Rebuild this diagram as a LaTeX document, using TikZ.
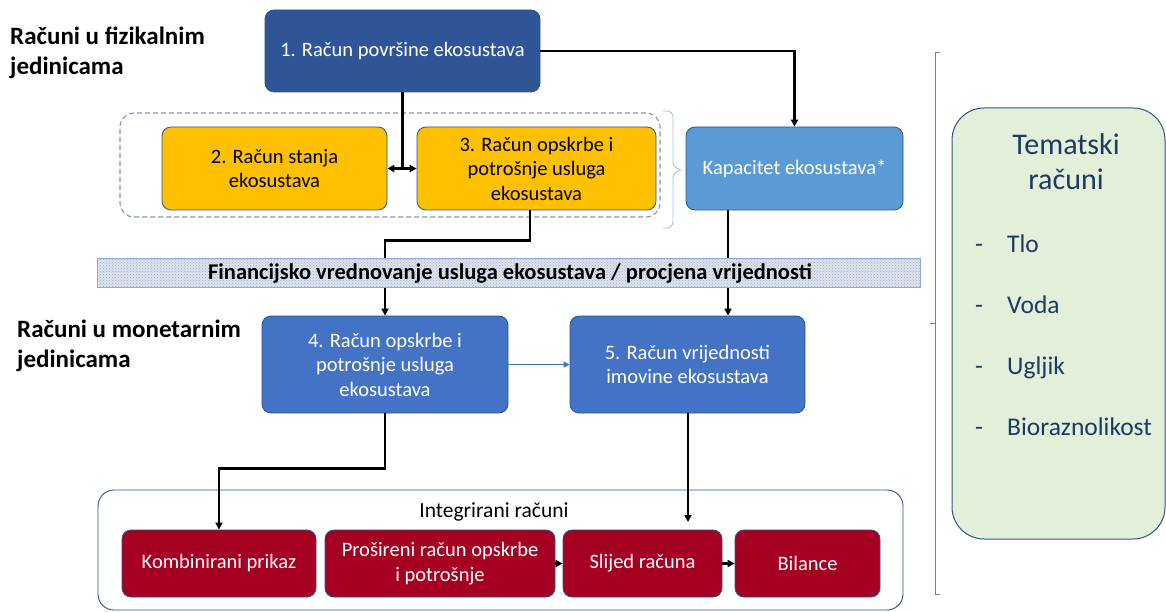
\documentclass[tikz,border=0pt]{standalone}
\usepackage{fontspec}
\setmainfont{Carlito}
\usetikzlibrary{arrows.meta,patterns,decorations.pathreplacing}
\definecolor{dblue}{RGB}{47,85,151}
\definecolor{myellow}{RGB}{255,192,0}
\definecolor{kapblue}{RGB}{91,155,213}
\definecolor{mblue}{RGB}{68,114,196}
\definecolor{dred}{RGB}{165,0,33}
\definecolor{outl}{RGB}{47,82,143}
\definecolor{lgreen}{RGB}{226,240,217}
\definecolor{ttext}{RGB}{31,56,100}
\definecolor{bandbg}{RGB}{222,228,238}
\definecolor{banddot}{RGB}{150,170,205}
\definecolor{bandedge}{RGB}{143,170,220}
\definecolor{dashc}{RGB}{132,151,176}
\definecolor{bracec}{RGB}{157,195,230}
\begin{document}
\begin{tikzpicture}[x=1pt,y=-1pt,
  box/.style={draw=outl,line width=0.8pt,rounded corners=9pt,inner sep=0pt,align=center,
    font=\fontsize{20.5}{24.5}\selectfont},
  wbox/.style={box,text=white},
  conn/.style={line width=2.3pt,-{Triangle[length=7pt,width=7pt]}},
  connplain/.style={line width=2.3pt},
  lbl/.style={font=\fontsize{25}{30}\selectfont\bfseries,align=left,anchor=north west,inner sep=0pt},
  item/.style={font=\fontsize{25.5}{28}\selectfont,text=ttext,anchor=base west,inner sep=0pt}]
\useasboundingbox (0,0) rectangle (1166,612);

% outer integrated box
\node[draw=outl,line width=0.9pt,rounded corners=16pt,fill=white,minimum width=805pt,minimum height=120pt,inner sep=0pt] (integ) at (500.5,550) {};
\node[font=\fontsize{21.5}{24}\selectfont,inner sep=0pt] (integlbl) at (494,512) {Integrirani računi};

% dashed group
\node[draw=dashc,dash pattern=on 5pt off 3pt,line width=1.1pt,rounded corners=14pt,minimum width=540pt,minimum height=104pt,inner sep=0pt] (grp) at (390,165) {};

% brace next to group
\draw[bracec,line width=0.9pt,rounded corners=6pt] (663,111) -- (673,111) -- (673,168) -- (684,170) -- (673,172) -- (673,228) -- (663,228);

% labels on left
\node[lbl] (lphys) at (10,27) {Računi u fizikalnim\\jedinicama};
\node[lbl] (lmon) at (17,320) {Računi u monetarnim\\jedinicama};

% main boxes
\node[wbox,fill=dblue,minimum width=275pt,minimum height=82pt] (b1) at (402.5,51) {1. Račun površine ekosustava};
\node[box,fill=myellow,minimum width=225pt,minimum height=83pt] (b2) at (274.5,168.5) {2. Račun stanja\\ekosustava};
\node[box,fill=myellow,minimum width=239pt,minimum height=83pt] (b3) at (536.5,168.5) {3. Račun opskrbe i\\potrošnje usluga\\ekosustava};
\node[wbox,fill=kapblue,minimum width=217pt,minimum height=83pt] (kap) at (794.5,168.5) {Kapacitet ekosustava*};
\node[wbox,fill=mblue,minimum width=246pt,minimum height=97pt] (b4) at (385,364.5) {4. Račun opskrbe i\\potrošnje usluga\\ekosustava};
\node[wbox,fill=mblue,minimum width=235pt,minimum height=97pt] (b5) at (687.5,364.5) {5. Račun vrijednosti\\imovine ekosustava};

% red boxes
\node[wbox,fill=dred,minimum width=194pt,minimum height=67pt] (kom) at (219,563.5) {Kombinirani prikaz};
\node[wbox,fill=dred,minimum width=230pt,minimum height=67pt] (pro) at (440,563.5) {Prošireni račun opskrbe\\i potrošnje};
\node[wbox,fill=dred,minimum width=159pt,minimum height=67pt] (sli) at (642.5,563.5) {Slijed računa};
\node[wbox,fill=dred,minimum width=145pt,minimum height=67pt] (bil) at (807.5,563.5) {Bilance};

% connectors
\draw[connplain] (b1.south) -- (b1.south |- b2.east);
\draw[line width=2.3pt,{Triangle[length=7pt,width=7pt]}-{Triangle[length=7pt,width=7pt]}] (b2.east) -- (b3.west);
\draw[conn] (b1.east) -| (kap.north);
\draw[conn] ([xshift=-6.5pt]b3.south) -- ++(0,30) -| (b4.north);
\draw[conn] ([xshift=-66.5pt]kap.south) -- ([xshift=-66.5pt]kap.south |- b5.north);
\draw[mblue,line width=1.3pt,-{Triangle[length=6pt,width=6pt]}] (b4.east) -- (b5.west);
\draw[conn] (b4.south) -- ++(0,55) -| (kom.north);
\coordinate (e5) at (688,522);
\draw[conn] ([xshift=0.5pt]b5.south) -- (e5);
\draw[conn] (pro.east) -- (sli.west);
\draw[conn] (sli.east) -- (bil.west);

% band
\node[draw=bandedge,line width=1pt,fill=bandbg,minimum width=823pt,minimum height=29pt,inner sep=0pt,
  postaction={pattern=crosshatch dots,pattern color=banddot}] (band) at (508.5,272.5) {};
\node[font=\fontsize{22.5}{24}\selectfont\bfseries,inner sep=0pt] (bandtxt) at (510,273) {Financijsko vrednovanje usluga ekosustava / procjena vrijednosti};

% right bracket
\draw[gray,line width=0.9pt] (940,52) -- (935,52) -- (935,594) -- (940,594);
\draw[gray,line width=0.9pt] (935,323) -- (930,323);

% thematic box
\node[draw=outl,line width=1pt,fill=lgreen,rounded corners=32pt,minimum width=213pt,minimum height=431pt,inner sep=0pt] (tem) at (1058.5,323.5) {};
\node[font=\fontsize{30}{35}\selectfont,text=ttext,align=center,inner sep=0pt] (temt) at (1066,162) {Tematski\\računi};
\node[item] (d1) at (975,252) {-};
\node[item] (t1) at (1007,252) {Tlo};
\node[item] (d2) at (975,313) {-};
\node[item] (t2) at (1007,313) {Voda};
\node[item] (d3) at (975,374) {-};
\node[item] (t3) at (1007,374) {Ugljik};
\node[item] (d4) at (975,435) {-};
\node[item] (t4) at (1007,435) {Bioraznolikost};
\end{tikzpicture}
\end{document}
